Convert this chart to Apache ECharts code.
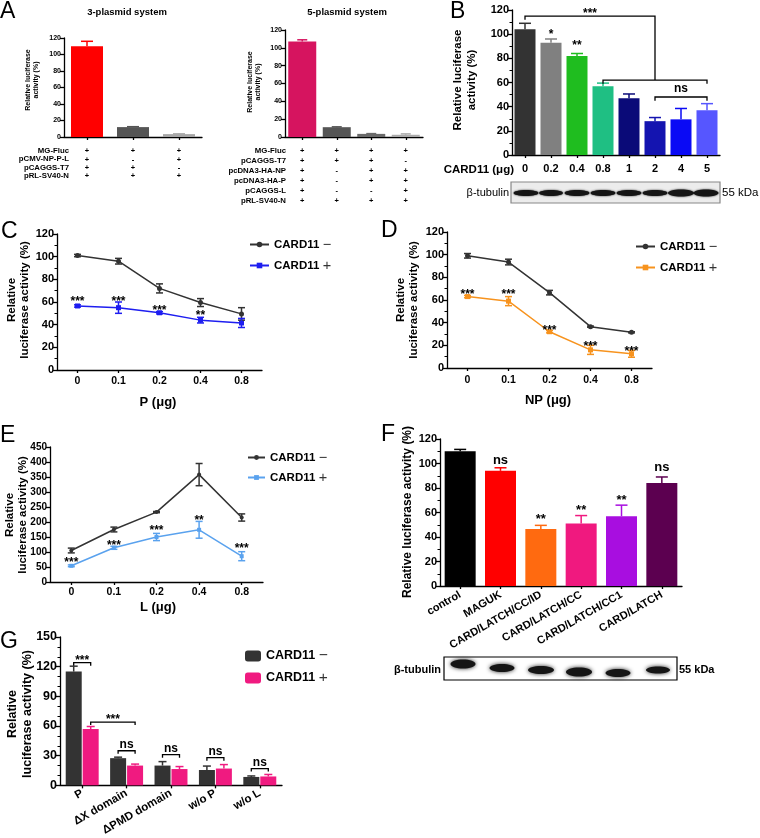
<!DOCTYPE html>
<html><head><meta charset="utf-8">
<script src="https://cdn.jsdelivr.net/npm/echarts@6/dist/echarts.min.js"></script>
<style>html,body{margin:0;padding:0;background:#fff}#c{width:760px;height:838px}</style>
</head><body><div id="c"></div>
<script>
// ---------------- DATA ----------------
// Panel A (3-plasmid)
const a1Cats = ['c1','c2','c3'];
const a1Vals = [110, 12, 3.5];
const a1Err = [6, 0.5, 0.3];
const a1Rows = ['MG-Fluc','pCMV-NP-P-L','pCAGGS-T7','pRL-SV40-N'];
const a1Signs = [['+','+','+','+'],['+','-','+','+'],['+','+','-','+']];
// Panel A (5-plasmid)
const a2Cats = ['c1','c2','c3','c4'];
const a2Vals = [107, 11, 3.5, 2.5];
const a2Err = [2, 0.4, 0.3, 1];
const a2Rows = ['MG-Fluc','pCAGGS-T7','pcDNA3-HA-NP','pcDNA3-HA-P','pCAGGS-L','pRL-SV40-N'];
const a2Signs = [['+','+','+','+','+','+'],['+','+','-','-','-','+'],['+','+','+','+','-','+'],['+','-','+','+','+','+']];
// Panel B
const bCats = ['0','0.2','0.4','0.8','1','2','4','5'];
const bVals = [104, 93, 82, 57, 47, 28, 29.5, 37];
const bErr = [5, 3, 2, 2.5, 3.5, 3, 9, 5.5];
const bStars = [[1, 102, '*'], [2, 93, '**']];
const bBrackets = [[0, 5, 115, 112, 62, '***'], [3, 7, 62, 59, 59, ''], [5, 7, 48, 45, 45, 'ns']];
// Panel C
const cCats = ['0','0.1','0.2','0.4','0.8'];
const cMinus = [101, 96, 72, 59.5, 49.5];
const cMinusErr = [1, 2.5, 4, 3.5, 5.5];
const cPlus = [56.5, 55, 50.5, 44, 41.5];
const cPlusErr = [1, 5, 1, 2.5, 4];
const cStars = [[0, 63.5, '***'], [1, 63.5, '***'], [2, 55.6, '***'], [3, 51, '**']];
// Panel D
const dCats = ['0','0.1','0.2','0.4','0.8'];
const dMinus = [99, 93.5, 66.5, 36.5, 31.5];
const dMinusErr = [2, 2.5, 2, 0.5, 0.5];
const dPlus = [63, 59, 32, 16, 12.5];
const dPlusErr = [1, 4, 1, 4, 3];
const dStars = [[0, 68, '***'], [1, 68, '***'], [2, 36, '***'], [3, 22, '***'], [4, 17, '***']];
// Panel E
const eCats = ['0','0.1','0.2','0.4','0.8'];
const eMinus = [105, 175, 233, 358, 215];
const eMinusErr = [8, 8, 2, 37, 12];
const ePlus = [54, 114, 150, 174, 86];
const ePlusErr = [3, 5, 12, 28, 15];
const eStars = [[0, 77, '***'], [1, 133, '***'], [2, 183, '***'], [3, 217, '**'], [4, 123, '***']];
// Panel F
const fCats = ['control','MAGUK','CARD/LATCH/CC/ID','CARD/LATCH/CC','CARD/LATCH/CC1','CARD/LATCH'];
const fVals = [110, 94, 46.5, 51, 57, 84];
const fErr = [1.5, 2.5, 3, 6.5, 9, 5];
const fStars = [[1, 102, 'ns'], [2, 57, '**'], [3, 64.5, '**'], [4, 72.6, '**'], [5, 96, 'ns']];
// Panel G
const gCats = ['P','ΔX domain','ΔPMD domain','w/o P','w/o L'];
const gMinus = [115, 27.5, 20, 15.5, 8.5];
const gMinusErr = [5.5, 1, 4, 4, 1];
const gPlus = [57, 20, 16.5, 17, 9];
const gPlusErr = [2.5, 1.5, 2.5, 4, 2];
// [cat1, side1, cat2, side2, yLine, yEnd1, yEnd2, label]
const gBrackets = [
  [0,-1,0,1,124,121,121,'***'], [0,1,1,1,64,61,61,'***'],
  [1,-1,1,1,35,32,32,'ns'], [2,-1,2,1,31,28,28,'ns'],
  [3,-1,3,1,28,25,25,'ns'], [4,-1,4,1,17,14,14,'ns']
];

// ---------------- STYLE ----------------
const FONT = '"Liberation Sans", Arial, Helvetica, sans-serif';
const aColors1 = ['#ff0000', '#555555', '#a6a6a6'];
const aColors2 = ['#d6145f', '#555555', '#6a6a6a', '#ababab'];
const bColors = ['#333333', '#808080', '#1fbd1f', '#1fbf83', '#0a0a78', '#1414b0', '#0a0af5', '#5656ff'];
const fColors = ['#000000', '#ff0000', '#ff6a10', '#f0197f', '#a80ee0', '#5c0050'];
const cBlack = '#333333', cBlue = '#1e1ef0', dOrange = '#f7931e', eBlue = '#5aa2ee';
const gDark = '#333333', gPink = '#f01a80';

const grids = [
  {left:64, top:38, width:138, height:99},    // 0 A1
  {left:285, top:30, width:138, height:107},  // 1 A2
  {left:512, top:10, width:208, height:145},  // 2 B
  {left:57, top:234, width:205, height:136},  // 3 C
  {left:447, top:232, width:205, height:136}, // 4 D
  {left:50, top:447, width:213, height:135},  // 5 E
  {left:440, top:439, width:242, height:147}, // 6 F
  {left:60, top:637, width:222, height:150}   // 7 G
];

function xCat(gi, data, fs, extra) {
  const ax = {
    type:'category', gridIndex:gi, data,
    axisLine:{lineStyle:{color:'#000', width:1.3}},
    axisTick:{show:true, alignWithLabel:true, length:3, lineStyle:{color:'#000', width:1.3}},
    axisLabel:{color:'#000', fontWeight:'bold', fontFamily:FONT, fontSize:fs, margin:6, interval:0}
  };
  if (extra) Object.keys(extra).forEach(k => { ax[k] = Object.assign({}, ax[k], extra[k]); });
  return ax;
}
function yVal(gi, min, max, interval, fs, minor) {
  return {
    type:'value', gridIndex:gi, min, max, interval,
    splitLine:{show:false},
    axisLine:{show:true, lineStyle:{color:'#000', width:1.3}},
    axisTick:{show:true, length:4, lineStyle:{color:'#000', width:1.3}},
    minorTick: minor ? {show:true, splitNumber:minor, length:2.5, lineStyle:{color:'#000', width:1}} : {show:false},
    axisLabel:{color:'#000', fontWeight:'bold', fontFamily:FONT, fontSize:fs, margin:3}
  };
}
function barSeries(gi, vals, colors, w, name, gap) {
  const s = {type:'bar', xAxisIndex:gi, yAxisIndex:gi, barWidth:w, z:3,
    data: vals.map((v,i) => ({value:v, itemStyle:{color: Array.isArray(colors) ? colors[i] : colors}}))};
  if (!Array.isArray(colors)) s.itemStyle = {color: colors};
  if (name) s.name = name;
  if (gap) s.barGap = gap;
  return s;
}
function errSeries(gi, vals, errs, colors, o) {
  o = o || {};
  return {
    type:'custom', xAxisIndex:gi, yAxisIndex:gi, z:4, silent:true,
    data: vals.map((v,i) => [i, v, errs[i]]),
    renderItem(params, api) {
      const i = api.value(0), v = api.value(1), e = api.value(2);
      const col = Array.isArray(colors) ? colors[params.dataIndex] : colors;
      const t = api.coord([i, v + e]);
      const b = api.coord([i, o.both ? v - e : v]);
      const x = t[0] + (o.offset || 0), c = o.cap || 4;
      const st = {stroke: col, lineWidth: o.lw || 1.5, fill:null};
      const ch = [
        {type:'line', shape:{x1:x, y1:t[1], x2:x, y2:b[1]}, style:st},
        {type:'line', shape:{x1:x-c, y1:t[1], x2:x+c, y2:t[1]}, style:st}
      ];
      if (o.both) ch.push({type:'line', shape:{x1:x-c, y1:b[1], x2:x+c, y2:b[1]}, style:st});
      return {type:'group', children:ch};
    }
  };
}
function starSeries(gi, items, fs) {
  return {
    type:'custom', xAxisIndex:gi, yAxisIndex:gi, z:6, silent:true,
    data: items.map(it => [it[0], it[1]]),
    renderItem(params, api) {
      const p = api.coord([api.value(0), api.value(1)]);
      const txt = items[params.dataIndex][2];
      const dy = txt.indexOf('*') >= 0 ? fs * 0.28 : -fs * 0.05;
      return {type:'text', x:p[0], y:p[1] + dy,
        style:{text:txt, fill:'#000', font:'bold ' + fs + 'px ' + FONT, textAlign:'center', textVerticalAlign:'middle'}};
    }
  };
}
function bracketSeries(gi, items, fs, sideOff, gapStar, gapNs) {
  return {
    type:'custom', xAxisIndex:gi, yAxisIndex:gi, z:6, silent:true,
    data: items.map(it => [it[0], it[2], it[4], it[5], it[6]]),
    renderItem(params, api) {
      const it = items[params.dataIndex];
      const x1 = api.coord([it[0], it[4]])[0] + it[1] * sideOff;
      const x2 = api.coord([it[2], it[4]])[0] + it[3] * sideOff;
      const y = api.coord([it[0], it[4]])[1];
      const y1 = api.coord([it[0], it[5]])[1];
      const y2 = api.coord([it[0], it[6]])[1];
      const st = {stroke:'#000', lineWidth:1.3, fill:null};
      const ch = [{type:'polyline', shape:{points:[[x1,y1],[x1,y],[x2,y],[x2,y2]]}, style:st}];
      const txt = it[7];
      if (txt) {
        const star = txt.indexOf('*') >= 0;
        ch.push({type:'text', x:(x1+x2)/2, y: y - (star ? gapStar : gapNs),
          style:{text:txt, fill:'#000', font:'bold ' + fs + 'px ' + FONT, textAlign:'center', textVerticalAlign:'middle'}});
      }
      return {type:'group', children:ch};
    }
  };
}
function bBracketSeries(gi, items, fs) {
  return {
    type:'custom', xAxisIndex:gi, yAxisIndex:gi, z:6, silent:true,
    data: items.map(it => [it[0], it[2]]),
    renderItem(params, api) {
      const it = items[params.dataIndex];
      const x1 = api.coord([it[0], it[2]])[0], x2 = api.coord([it[1], it[2]])[0];
      const y = api.coord([it[0], it[2]])[1];
      const y1 = api.coord([it[0], it[3]])[1], y2 = api.coord([it[0], it[4]])[1];
      const st = {stroke:'#000', lineWidth:1.3, fill:null};
      const ch = [{type:'polyline', shape:{points:[[x1,y1],[x1,y],[x2,y],[x2,y2]]}, style:st}];
      if (it[5]) {
        const star = it[5].indexOf('*') >= 0;
        ch.push({type:'text', x:(x1+x2)/2, y: y - (star ? 2 : 8),
          style:{text:it[5], fill:'#000', font:'bold ' + fs + 'px ' + FONT, textAlign:'center', textVerticalAlign:'middle'}});
      }
      return {type:'group', children:ch};
    }
  };
}
function lineSeries(gi, name, vals, color, symbol, size) {
  return {type:'line', name, xAxisIndex:gi, yAxisIndex:gi, data:vals, symbol, symbolSize:size,
    lineStyle:{color, width:1.5}, itemStyle:{color}, z:3};
}
function legendFmt(name) {
  return '{b|CARD11} {n|' + (name.slice(-1) === '+' ? '+' : '\u2212') + '}';
}
function mkLegend(names, left, top, fs, iw, ih, gap) {
  return {data:names, left, top, orient:'vertical', itemGap:gap, itemWidth:iw, itemHeight:ih,
    selectedMode:false, formatter:legendFmt, padding:0,
    textStyle:{rich:{b:{fontWeight:'bold', fontSize:fs, fontFamily:FONT, color:'#000'},
      n:{fontWeight:'normal', fontSize:fs + 3, fontFamily:FONT, color:'#333'}}}};
}

// ---------------- GRAPHIC TEXT ----------------
const gr = [];
function txt(x, y, t, fs, opt) {
  opt = opt || {};
  gr.push({type:'text', x, y, rotation: opt.rot || 0, z:10, silent:true,
    style:{text:t, fill:opt.color || '#000', font:(opt.weight || 'bold') + ' ' + fs + 'px ' + FONT,
      textAlign:opt.align || 'center', textVerticalAlign:opt.va || 'middle', lineHeight:opt.lh}});
}
// panel letters
[['A',0,12],['B',450,12],['C',1,232],['D',381,231],['E',0,436],['F',381,435],['G',0,642]].forEach(l =>
  txt(l[1], l[2], l[0], 23, {weight:'normal', align:'left'}));
// A titles
txt(127, 12, '3-plasmid system', 9.5);
txt(347, 12, '5-plasmid system', 9.5);
// A row labels
a1Rows.forEach((r,i) => txt(69, 151 + i * 8.3, r, 7.8, {align:'right'}));
a2Rows.forEach((r,i) => txt(286, 151 + i * 10, r, 7.8, {align:'right'}));
// y axis names
const ROT = Math.PI / 2;
txt(32, 80, 'Relative luciferase\nactivity (%)', 7, {rot:ROT, lh:8});
txt(254, 82, 'Relative luciferase\nactivity (%)', 7, {rot:ROT, lh:8});
txt(465, 80, 'Relative luciferase\nactivity (%)', 11.5, {rot:ROT, lh:14});
txt(18, 300, 'Relative\nluciferase activity (%)', 11.5, {rot:ROT, lh:13});
txt(407, 300, 'Relative\nluciferase activity (%)', 11.5, {rot:ROT, lh:13});
txt(16, 515, 'Relative\nluciferase activity (%)', 11.5, {rot:ROT, lh:13});
txt(408, 512, 'Relative luciferase activity (%)', 12, {rot:ROT});
txt(20, 714, 'Relative\nluciferase activity (%)', 12.5, {rot:ROT, lh:15});
// axis titles
txt(514, 170, 'CARD11 (\u03bcg)', 11.5, {align:'right'});
txt(158, 402, 'P (\u03bcg)', 13);
txt(548, 400, 'NP (\u03bcg)', 13);
txt(158, 607, 'L (\u03bcg)', 13);

// blots
function blot(x0, y0, w, h, bg, border, bands, blur) {
  gr.push({type:'rect', shape:{x:x0, y:y0, width:w, height:h}, z:8, silent:true,
    style:{fill:bg, stroke:border, lineWidth:1.2}});
  bands.forEach(b => {
    gr.push({type:'ellipse', shape:{cx:b[0], cy:b[1], rx:b[2]/2, ry:b[3]/2}, z:9, silent:true,
      style:{fill:'#151515', shadowBlur:blur, shadowColor:'rgba(0,0,0,0.85)'}});
  });
}
blot(511, 182, 209, 21, '#ececec', '#888',
  [[526,193,25,6],[551,193,24,6],[577,193,25,6],[603,193,25,6],[629,193,25,6],[655,193,25,6],[681,193,26,7],[706,193,25,7]], 2);
txt(509, 193, '\u03b2-tubulin', 11, {weight:'normal', align:'right'});
txt(722, 193, '55 kDa', 11.5, {weight:'normal', align:'left'});
blot(444, 657, 233, 23, '#ffffff', '#000',
  [[463,664,25,9],[502,668,25,8],[541,670,26,8],[579,672,26,9],[618,673,25,8],[658,670,24,7]], 4);
txt(441, 670, '\u03b2-tubulin', 11, {align:'right'});
txt(679, 670, '55 kDa', 11, {align:'left'});

// ---------------- OPTION ----------------
const xAxes = [
  xCat(0, a1Cats, 7.5, {axisLabel:{lineHeight:8.3, margin:10, formatter:(v, i) => a1Signs[i].join('\n')}}),
  xCat(1, a2Cats, 7.5, {axisLabel:{lineHeight:10, margin:9, formatter:(v, i) => a2Signs[i].join('\n')}}),
  xCat(2, bCats, 11, {axisLabel:{margin:8}}),
  xCat(3, cCats, 10.5, {axisLabel:{margin:6}}),
  xCat(4, dCats, 10.5, {axisLabel:{margin:7}}),
  xCat(5, eCats, 10.5, {axisLabel:{margin:5}}),
  xCat(6, fCats, 11, {axisLabel:{rotate:30, margin:8}}),
  xCat(7, gCats, 11.5, {axisLabel:{rotate:30, margin:7}})
];
const yAxes = [
  yVal(0, 0, 120, 20, 7, 0),
  yVal(1, 0, 120, 20, 7, 0),
  yVal(2, 0, 120, 20, 11, 2),
  yVal(3, 0, 120, 20, 11, 2),
  yVal(4, 0, 120, 20, 11, 2),
  yVal(5, 0, 450, 50, 10, 0),
  yVal(6, 0, 120, 20, 11, 2),
  yVal(7, 0, 150, 30, 12.5, 3)
];
const series = [
  barSeries(0, a1Vals, aColors1, 32), errSeries(0, a1Vals, a1Err, aColors1, {cap:6}),
  barSeries(1, a2Vals, aColors2, 28), errSeries(1, a2Vals, a2Err, aColors2, {cap:5}),
  barSeries(2, bVals, bColors, 21), errSeries(2, bVals, bErr, bColors, {cap:6}),
  starSeries(2, bStars, 12), bBracketSeries(2, bBrackets, 12),
  lineSeries(3, 'C\u2212', cMinus, cBlack, 'circle', 5), lineSeries(3, 'C+', cPlus, cBlue, 'rect', 5),
  errSeries(3, cMinus, cMinusErr, cBlack, {both:true, cap:3.5}), errSeries(3, cPlus, cPlusErr, cBlue, {both:true, cap:3.5}),
  starSeries(3, cStars, 12),
  lineSeries(4, 'D\u2212', dMinus, cBlack, 'circle', 5), lineSeries(4, 'D+', dPlus, dOrange, 'rect', 5),
  errSeries(4, dMinus, dMinusErr, cBlack, {both:true, cap:3.5}), errSeries(4, dPlus, dPlusErr, dOrange, {both:true, cap:3.5}),
  starSeries(4, dStars, 12),
  lineSeries(5, 'E\u2212', eMinus, cBlack, 'circle', 4), lineSeries(5, 'E+', ePlus, eBlue, 'rect', 4),
  errSeries(5, eMinus, eMinusErr, cBlack, {both:true, cap:3.5}), errSeries(5, ePlus, ePlusErr, eBlue, {both:true, cap:3.5}),
  starSeries(5, eStars, 12),
  barSeries(6, fVals, fColors, 31), errSeries(6, fVals, fErr, fColors, {cap:6}),
  starSeries(6, fStars, 13),
  barSeries(7, gMinus, gDark, 16, 'G\u2212', '6%'), barSeries(7, gPlus, gPink, 16, 'G+', '6%'),
  errSeries(7, gMinus, gMinusErr, gDark, {offset:-8.5, cap:4}), errSeries(7, gPlus, gPlusErr, gPink, {offset:8.5, cap:4}),
  bracketSeries(7, gBrackets, 12, 8.5, 2, 6)
];
const legends = [
  mkLegend(['C\u2212','C+'], 249, 237, 11.5, 19, 7, 6),
  mkLegend(['D\u2212','D+'], 635, 239, 11.5, 19, 7, 6),
  mkLegend(['E\u2212','E+'], 247, 450, 11.5, 17, 6, 5),
  mkLegend(['G\u2212','G+'], 245, 648, 12.5, 16, 11, 6)
];

const chart = echarts.init(document.getElementById('c'), null, {renderer:'canvas'});
chart.setOption({
  animation:false,
  backgroundColor:'#fff',
  textStyle:{fontFamily:FONT},
  grid: grids.map(g => Object.assign({containLabel:false}, g)),
  xAxis: xAxes, yAxis: yAxes, series, legend: legends,
  graphic: gr
});
</script></body></html>
